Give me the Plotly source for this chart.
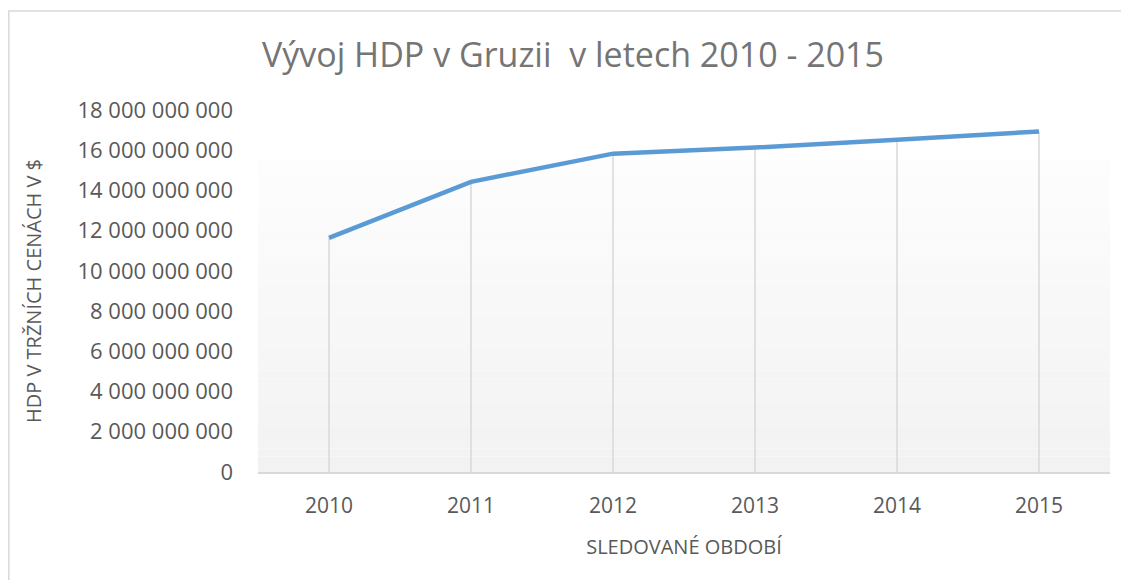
import plotly.graph_objects as go

years = ["2010", "2011", "2012", "2013", "2014", "2015"]
gdp = [11.64e9, 14.43e9, 15.83e9, 16.13e9, 16.52e9, 16.93e9]
y_ticks = [0, 2e9, 4e9, 6e9, 8e9, 10e9, 12e9, 14e9, 16e9, 18e9]

title_text = "Vývoj HDP v Gruzii  v letech 2010 - 2015"
y_title = "HDP V TRŽNÍCH CENÁCH V $"
x_title = "SLEDOVANÉ OBDOBÍ"

FONT = "Open Sans"
TXT = "#595959"
LINE = "#5B9BD5"
GRID = "#d9d9d9"

fig = go.Figure()

# drop lines from each point to the axis
dx, dy = [], []
for c, v in zip(years, gdp):
    dx += [c, c, None]
    dy += [v, 0, None]
fig.add_trace(go.Scatter(x=dx, y=dy, mode="lines",
                         line=dict(color=GRID, width=1.5),
                         hoverinfo="skip", showlegend=False))

fig.add_trace(go.Scatter(x=years, y=gdp, mode="lines",
                         line=dict(color=LINE, width=4.5),
                         showlegend=False))

# gradient plot-area fill (styling)
steps = 40
top_frac = 0.862
c_top = (253, 253, 253)
c_bot = (242, 242, 242)
shapes = []
for i in range(steps):
    t = i / (steps - 1)
    col = tuple(round(c_bot[k] + (c_top[k] - c_bot[k]) * t) for k in range(3))
    shapes.append(dict(type="rect", xref="paper", yref="paper",
                       x0=0, x1=1, y0=top_frac * i / steps, y1=top_frac * (i + 1) / steps,
                       fillcolor="rgb(%d,%d,%d)" % col, line=dict(width=0), layer="below"))

# chart border (only top/left visible)
shapes.append(dict(type="rect", xref="paper", yref="paper",
                   x0=-0.2925, x1=1.05, y0=-0.35, y1=1.2735,
                   line=dict(color="#d9d9d9", width=1.5), fillcolor="rgba(0,0,0,0)",
                   layer="below"))

fig.update_layout(
    width=1121, height=572,
    margin=dict(l=250, r=19, t=102, b=108),
    paper_bgcolor="white", plot_bgcolor="rgba(0,0,0,0)",
    separators=", ",
    font=dict(family=FONT, color=TXT),
    title=dict(text=title_text, x=0.504, xanchor="center", y=0.918, yanchor="middle",
               font=dict(family=FONT, size=34, color="#757575")),
    shapes=shapes,
    xaxis=dict(type="category", range=[-0.5, 5.5], showgrid=False, zeroline=False,
               showline=True, linecolor=GRID, linewidth=1.5, ticks="",
               tickfont=dict(size=21, color=TXT), ticklabelstandoff=14,
               title=dict(text=x_title, font=dict(size=20, color=TXT), standoff=22)),
    yaxis=dict(range=[0, 18e9], tickvals=y_ticks, tickformat=",d", showgrid=False,
               zeroline=False, showline=False, ticks="",
               tickfont=dict(size=22, color=TXT), ticklabelstandoff=24,
               title=dict(text=y_title, font=dict(size=20, color=TXT), standoff=30)),
)

fig.write_html("out.html")
